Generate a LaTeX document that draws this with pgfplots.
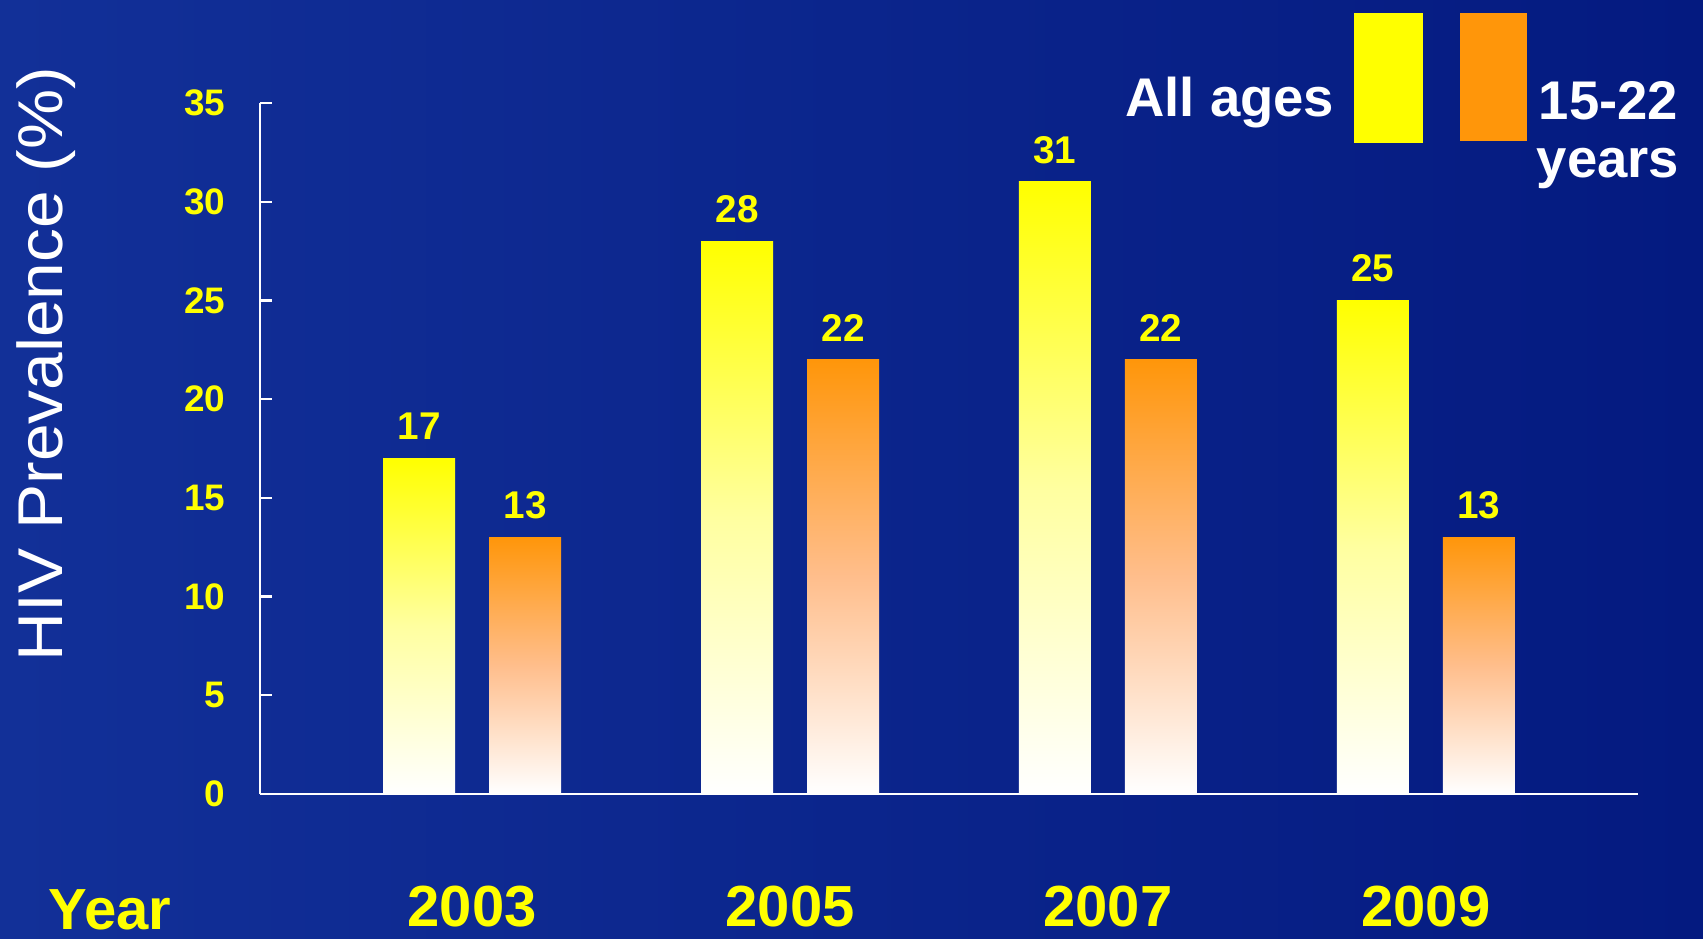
\documentclass[border=0pt]{standalone}
\usepackage{pgfplots}
\pgfplotsset{compat=1.18}
\usepackage{fontspec}
\setmainfont{Liberation Sans}
\definecolor{bg1}{RGB}{18,48,152}
\definecolor{bg2}{RGB}{4,26,128}
\definecolor{barY}{RGB}{255,255,0}
\definecolor{barO}{RGB}{255,150,10}
\definecolor{midY}{RGB}{255,255,160}
\definecolor{midO}{RGB}{255,190,140}
\definecolor{lblY}{RGB}{255,255,0}
\begin{document}
\begin{tikzpicture}[x=1mm,y=1mm]
\shade[left color=bg1, right color=bg2] (0,0) rectangle (170.3,93.8);
\useasboundingbox (0,0) rectangle (170.3,93.8);
\begin{axis}[
  at={(26mm,14.4mm)}, anchor=south west,
  scale only axis, width=137.8mm, height=69.1mm,
  xmin=-0.667, xmax=3.667, ymin=0, ymax=35,
  axis x line*=bottom, axis y line*=left,
  axis line style={white, line width=0.28mm},
  xtick={0,1,2,3}, xticklabels={2003,2005,2007,2009},
  major x tick style={draw=none},
  ytick={0,5,...,35},
  tick align=inside, major tick length=1.2mm,
  major y tick style={white, line width=0.22mm},
  /pgf/number format/assume math mode=true,
  yticklabel style={font=\fontsize{10.5}{12}\selectfont\bfseries, text=lblY, anchor=east, inner sep=0pt, xshift=-3.4mm},
  xticklabel style={font=\fontsize{16.5}{18}\selectfont\bfseries, text=lblY, anchor=base, inner sep=0pt, yshift=-12.0mm},
  ybar, bar width=7.2mm,
  nodes near coords,
  every node near coord/.append style={font=\fontsize{11}{13}\selectfont\bfseries, text=lblY, anchor=south, yshift=0.6mm},
  clip=false,
  ystyle/.style={draw=none, bar shift=-5.3mm, top color=barY, bottom color=white, middle color=midY},
  ostyle/.style={draw=none, bar shift=5.3mm, top color=barO, bottom color=white, middle color=midO},
]
% All ages
\addplot[ystyle] coordinates {(0,17)};
\addplot[ystyle] coordinates {(1,28)};
\addplot[ystyle] coordinates {(2,31)};
\addplot[ystyle] coordinates {(3,25)};
% 15-22 years
\addplot[ostyle] coordinates {(0,13)};
\addplot[ostyle] coordinates {(1,22)};
\addplot[ostyle] coordinates {(2,22)};
\addplot[ostyle] coordinates {(3,13)};
\end{axis}
% y label
\node[rotate=90, anchor=base, text=white, font=\fontsize{18}{20}\selectfont] at (6.2,57.4) {\scalebox{1.07}[1]{HIV Prevalence (\%)}};
% Year label
\node[anchor=base, text=lblY, font=\fontsize{16.5}{18}\selectfont\bfseries, inner sep=0pt] at (11.0,0.9) {Year};
% legend
\fill[barY] (135.4,79.5) rectangle (142.3,92.5);
\fill[barO] (146.0,79.7) rectangle (152.7,92.5);
\node[anchor=base east, text=white, font=\fontsize{15.5}{18}\selectfont\bfseries, inner sep=0pt] at (133.5,82.1) {All ages};
\node[anchor=base west, text=white, font=\fontsize{15.5}{18}\selectfont\bfseries, inner sep=0pt] at (153.8,81.8) {15-22};
\node[anchor=base west, text=white, font=\fontsize{15.5}{18}\selectfont\bfseries, inner sep=0pt] at (153.6,76.0) {years};
\end{tikzpicture}
\end{document}
